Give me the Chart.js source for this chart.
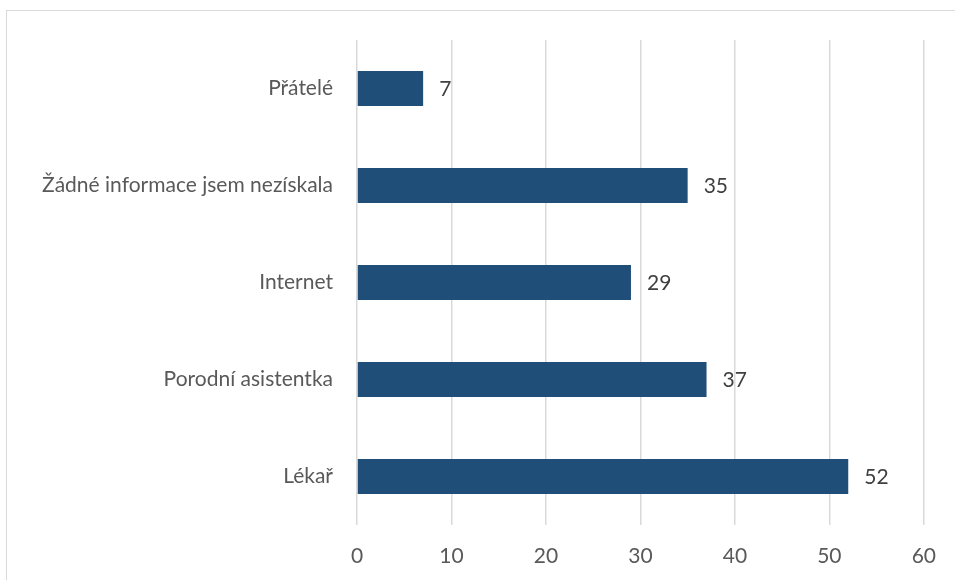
<!DOCTYPE html>
<html>
<head>
<meta charset="utf-8">
<script src="https://cdn.jsdelivr.net/npm/chart.js@4"></script>
<style>
  html, body { margin: 0; padding: 0; background: #fff; overflow: hidden; }
  #wrap { position: relative; width: 955px; height: 580px; }
  #frame { position: absolute; left: 6px; top: 10px; width: 1000px; height: 700px; border: 1.5px solid #d9d9d9; box-sizing: border-box; }
  canvas { position: absolute; left: 0; top: 0; }
</style>
</head>
<body>
<div id="wrap">
  <div id="frame"></div>
  <canvas id="myChart" width="955" height="580"></canvas>
</div>
<script>
const categories = ['Přátelé', 'Žádné informace jsem nezískala', 'Internet', 'Porodní asistentka', 'Lékař']
const counts = [7, 35, 29, 37, 52]
const xTicks = [0, 10, 20, 30, 40, 50, 60]

const FONT = 'Lato, "Open Sans", sans-serif'

// values printed just past the end of each bar
const valueLabels = {
    id: 'valueLabels',
    afterDatasetsDraw(chart) {
        const ctx = chart.ctx
        const meta = chart.getDatasetMeta(0)
        ctx.save()
        ctx.font = '21px ' + FONT
        ctx.fillStyle = '#404040'
        ctx.textAlign = 'left'
        ctx.textBaseline = 'middle'
        meta.data.forEach((bar, i) => {
            ctx.fillText(String(counts[i]), bar.x + 16, bar.y + 1)
        })
        ctx.restore()
    }
}

const ctx = document.getElementById('myChart')

new Chart(ctx, {
    type: 'bar',
    data: {
        labels: categories,
        datasets: [{
            data: counts,
            backgroundColor: '#1f4e79',
            borderWidth: 0,
            categoryPercentage: 1,
            barPercentage: 0.36
        }]
    },
    options: {
        indexAxis: 'y',
        responsive: false,
        animation: false,
        devicePixelRatio: 1,
        layout: { padding: { top: 40, right: 28, left: 0, bottom: 0 } },
        plugins: { legend: { display: false }, tooltip: { enabled: false } },
        scales: {
            x: {
                min: 0,
                max: 60,
                afterBuildTicks: (scale) => { scale.ticks = xTicks.map(v => ({ value: v })) },
                afterFit: (scale) => { scale.height = 55 },
                grid: { color: '#d9d9d9', lineWidth: 1.5, drawTicks: false },
                border: { display: false },
                ticks: { padding: 19, color: '#595959', font: { family: FONT, size: 21 } }
            },
            y: {
                afterFit: (scale) => { scale.width = 357 },
                grid: { display: false, drawTicks: false },
                border: { display: false },
                ticks: { padding: 24, color: '#595959', font: { family: FONT, size: 21 } }
            }
        }
    },
    plugins: [valueLabels]
})
</script>
</body>
</html>
